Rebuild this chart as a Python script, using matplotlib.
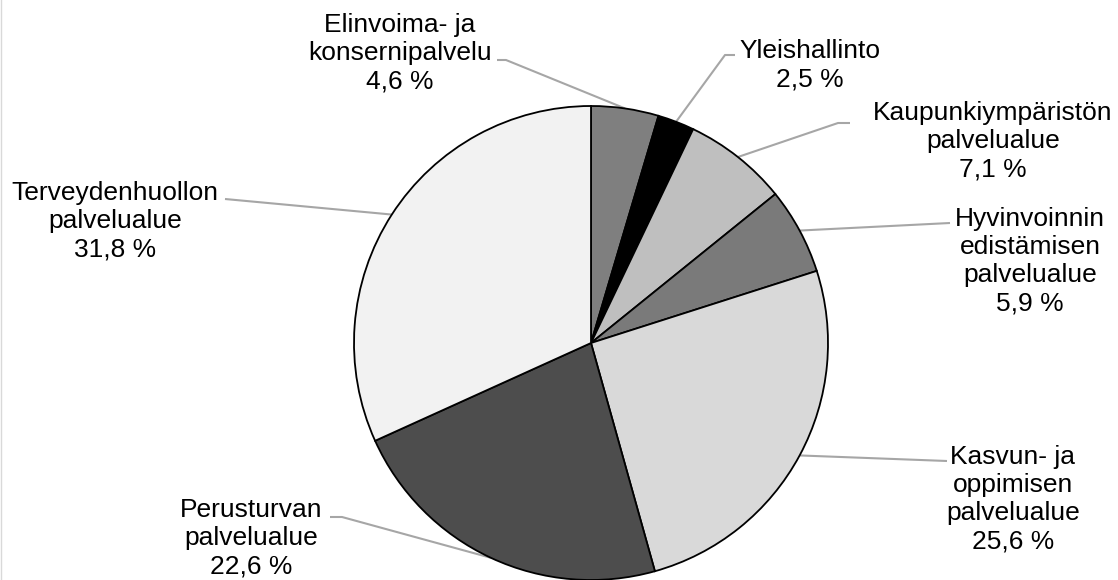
import numpy as np
import matplotlib

matplotlib.use("Agg")

import matplotlib.pyplot as plt

plt.rcParams["font.family"] = ["Liberation Sans", "DejaVu Sans"]

# Data
labels = [
    "Elinvoima- ja\nkonsernipalvelu",
    "Yleishallinto",
    "Kaupunkiympäristön\npalvelualue",
    "Hyvinvoinnin\nedistämisen\npalvelualue",
    "Kasvun- ja\noppimisen\npalvelualue",
    "Perusturvan\npalvelualue",
    "Terveydenhuollon\npalvelualue",
]
shares = [4.6, 2.5, 7.1, 5.9, 25.6, 22.6, 31.8]
colors = ["#7f7f7f", "#000000", "#bfbfbf", "#7a7a7a", "#d9d9d9", "#4d4d4d", "#f2f2f2"]

# Label layout (pixel coords, y from top): text centre, elbow points
text_pos = [(400, 53), (810, 65), (993, 141), (1030, 261), (1013, 499), (251, 538), (115, 221)]
elbows = [
    [(497, 60), (506, 60)],
    [(735, 55), (725, 55)],
    [(850, 123), (838, 123)],
    [(950, 223)],
    [(947, 461)],
    [(330, 517), (342, 517)],
    [(225, 199)],
]

W, H = 1118, 580
cx, cy, r = 591, 343, 237

fig = plt.figure(figsize=(W / 100, H / 100), dpi=100)
ax = fig.add_axes([0, 0, 1, 1])

wedges, _ = ax.pie(
    shares,
    colors=colors,
    startangle=90,
    counterclock=False,
    center=(cx, H - cy),
    radius=r,
    wedgeprops=dict(edgecolor="black", linewidth=1.3),
    frame=True,
)
ax.set_xlim(0, W)
ax.set_ylim(0, H)
ax.set_aspect("equal")
ax.axis("off")

for w, lab, val, tp, elb in zip(wedges, labels, shares, text_pos, elbows):
    mid = np.deg2rad((w.theta1 + w.theta2) / 2)
    rim = (cx + r * np.cos(mid), H - cy + r * np.sin(mid))
    pts = [(x, H - y) for x, y in elb] + [rim]
    xs, ys = zip(*pts)
    ax.plot(xs, ys, color="#a6a6a6", lw=1.5, solid_capstyle="butt", zorder=0)
    txt = lab + "\n" + f"{val:.1f} %".replace(".", ",")
    ax.text(tp[0], H - tp[1], txt, ha="center", va="center", fontsize=19,
            linespacing=1.22, color="#000000")

# faint chart border on the left
ax.plot([0.5, 0.5], [0, H], color="#d9d9d9", lw=1)

fig.savefig("out.png", dpi=100)
